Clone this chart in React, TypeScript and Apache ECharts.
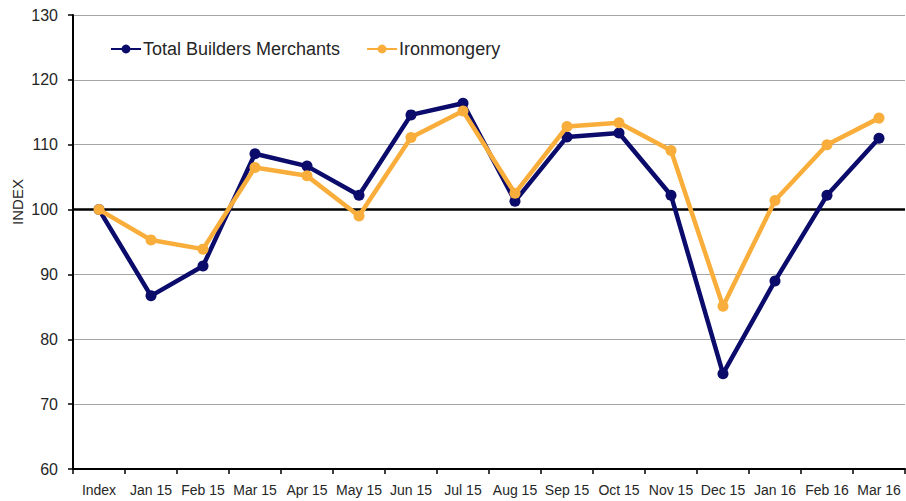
import React, { useEffect, useRef } from "react";
import * as echarts from "echarts";

const categories = ["Index", "Jan 15", "Feb 15", "Mar 15", "Apr 15", "May 15", "Jun 15", "Jul 15", "Aug 15", "Sep 15", "Oct 15", "Nov 15", "Dec 15", "Jan 16", "Feb 16", "Mar 16"];
const totalBuilders = [100, 86.7, 91.3, 108.6, 106.7, 102.2, 114.6, 116.4, 101.3, 111.2, 111.8, 102.2, 74.7, 89.0, 102.2, 111.0];
const ironmongery = [100, 95.3, 93.9, 106.5, 105.2, 99.0, 111.1, 115.2, 102.5, 112.8, 113.4, 109.1, 85.1, 101.4, 110.0, 114.1];
const seriesNames = ["Total Builders Merchants", "Ironmongery"];

const FONT = "'Liberation Sans', 'Noto Sans', sans-serif";

export default function App() {
  const ref = useRef<HTMLDivElement>(null);
  useEffect(() => {
    if (!ref.current) return;
    const chart = echarts.init(ref.current, undefined, { renderer: "svg" });
    chart.setOption({
      animation: false,
      backgroundColor: "#ffffff",
      grid: { left: 73, top: 15, right: 1, bottom: 32, containLabel: false },
      legend: {
        left: 105,
        top: 35,
        itemWidth: 30,
        itemHeight: 11,
        itemGap: 26,
        textStyle: { fontFamily: FONT, fontSize: 18, color: "#262626", padding: [0, 0, 0, -3] },
        data: seriesNames,
      },
      graphic: [
        {
          type: "text",
          x: 17,
          y: 202,
          rotation: Math.PI / 2,
          style: { text: "INDEX", fontFamily: FONT, fontSize: 15, fill: "#262626", textAlign: "center", textVerticalAlign: "middle" },
        },
      ],
      xAxis: {
        type: "category",
        data: categories,
        boundaryGap: true,
        axisLine: { lineStyle: { color: "#000", width: 2 } },
        axisTick: { show: true, alignWithLabel: false, length: 5, lineStyle: { color: "#000", width: 1.5 } },
        axisLabel: { fontFamily: FONT, fontSize: 14, color: "#262626", margin: 14, interval: 0 },
        splitLine: { show: false },
      },
      yAxis: {
        type: "value",
        min: 60,
        max: 130,
        interval: 10,
        axisLine: { show: true, lineStyle: { color: "#000", width: 2 } },
        axisTick: { show: true, length: 5, lineStyle: { color: "#000", width: 1.5 } },
        axisLabel: { fontFamily: FONT, fontSize: 16, color: "#262626", margin: 15 },
        splitLine: { show: true, lineStyle: { color: "#a6a6a6", width: 1.2 } },
      },
      series: [
        {
          name: seriesNames[0],
          type: "line",
          data: totalBuilders,
          color: "#0b0b6b",
          lineStyle: { width: 4.5, color: "#0b0b6b" },
          symbol: "circle",
          symbolSize: 11,
          itemStyle: { color: "#0b0b6b" },
          markLine: {
            silent: true,
            symbol: "none",
            label: { show: false },
            lineStyle: { color: "#000", width: 2.5, type: "solid" },
            data: [{ yAxis: 100 }],
            z: 1,
          },
          z: 3,
        },
        {
          name: seriesNames[1],
          type: "line",
          data: ironmongery,
          color: "#f9ae3b",
          lineStyle: { width: 4.5, color: "#f9ae3b" },
          symbol: "circle",
          symbolSize: 11,
          itemStyle: { color: "#f9ae3b" },
          z: 4,
        },
      ],
    });
    return () => chart.dispose();
  }, []);
  return <div ref={ref} style={{ width: 906, height: 501, position: "absolute", left: 0, top: 0 }} />;
}
